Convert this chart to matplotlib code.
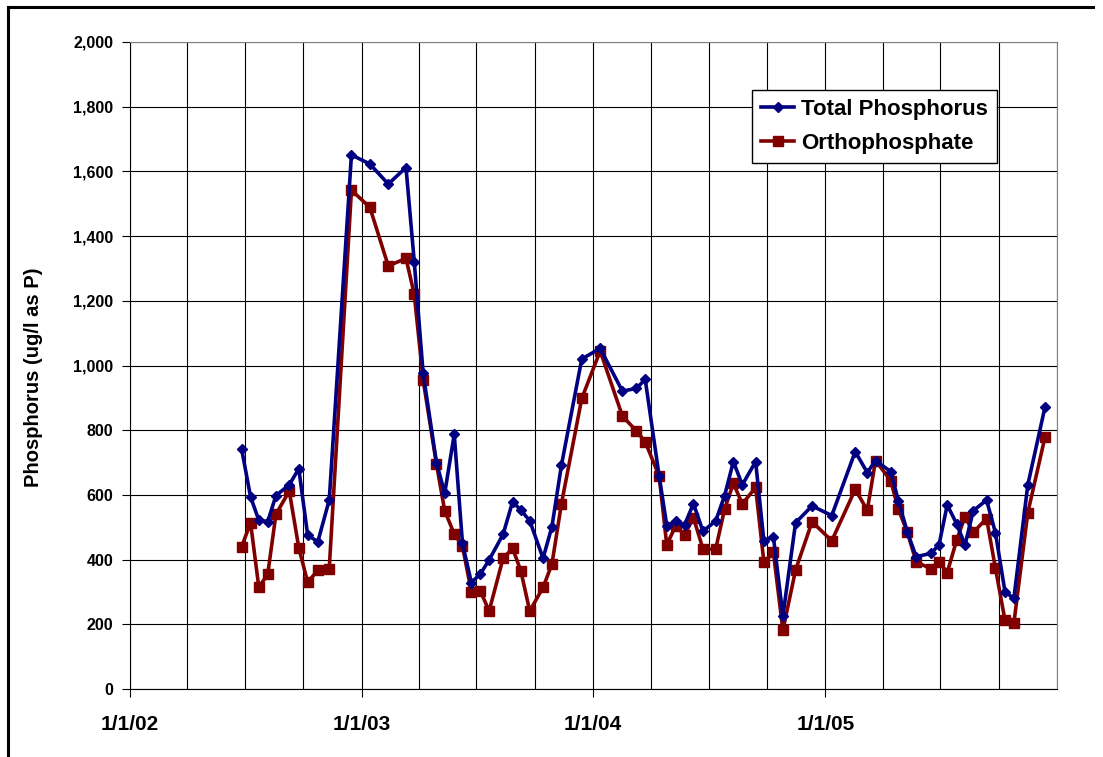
import matplotlib
matplotlib.use("Agg")
import matplotlib.pyplot as plt
import matplotlib.dates as mdates
from matplotlib.lines import Line2D
import pandas as pd

plt.rcParams['font.family'] = ['Liberation Sans', 'DejaVu Sans']

# sample dates
dates = [
    "2002-06-26", "2002-07-10", "2002-07-23", "2002-08-06", "2002-08-19", "2002-09-09",
    "2002-09-24", "2002-10-08", "2002-10-24", "2002-11-11", "2002-12-16",
    "2003-01-14", "2003-02-12", "2003-03-12", "2003-03-25", "2003-04-08", "2003-04-29",
    "2003-05-12", "2003-05-27", "2003-06-09", "2003-06-23", "2003-07-07", "2003-07-21",
    "2003-08-12", "2003-08-27", "2003-09-09", "2003-09-23", "2003-10-14", "2003-10-28",
    "2003-11-12", "2003-12-14",
    "2004-01-12", "2004-02-16", "2004-03-09", "2004-03-23", "2004-04-14", "2004-04-26",
    "2004-05-10", "2004-05-24", "2004-06-07", "2004-06-22", "2004-07-12", "2004-07-26",
    "2004-08-09", "2004-08-23", "2004-09-13", "2004-09-26", "2004-10-11", "2004-10-26",
    "2004-11-15", "2004-12-11",
    "2005-01-11", "2005-02-17", "2005-03-08", "2005-03-21", "2005-04-14", "2005-04-26",
    "2005-05-10", "2005-05-24", "2005-06-16", "2005-06-29", "2005-07-12", "2005-07-27",
    "2005-08-09", "2005-08-22", "2005-09-12", "2005-09-26", "2005-10-11", "2005-10-25",
    "2005-11-16", "2005-12-13",
]

total_p = [
    741, 594, 522, 517, 598, 631, 681, 476, 455, 584, 1651,
    1623, 1561, 1612, 1321, 976, 700, 605, 787, 450, 329, 355, 399, 478, 579, 553, 520,
    404, 502, 692, 1020,
    1053, 921, 929, 957, 658, 505, 519, 507, 573, 488, 519, 597, 703, 631, 703, 458,
    471, 226, 514, 566,
    536, 734, 669, 706, 672, 582, 486, 409, 419, 445, 569, 510, 445, 551, 584, 483,
    301, 280, 631, 871,
]

ortho_p = [
    440, 514, 315, 354, 540, 612, 437, 330, 367, 372, 1542,
    1489, 1308, 1331, 1220, 955, 695, 551, 479, 442, 300, 304, 241, 404, 435, 365, 241,
    314, 386, 573, 898,
    1045, 844, 798, 764, 658, 445, 505, 476, 530, 433, 432, 555, 636, 572, 623, 393,
    422, 182, 368, 517,
    458, 617, 553, 706, 644, 555, 486, 393, 372, 393, 360, 461, 533, 484, 527, 373,
    213, 203, 545, 778,
]

year_ticks = ["2002-01-01", "2003-01-01", "2004-01-01", "2005-01-01"]
year_labels = ["1/1/02", "1/1/03", "1/1/04", "1/1/05"]

x = pd.to_datetime(dates)

fig = plt.figure(figsize=(11.03, 7.57), dpi=100)
ax = fig.add_axes([130 / 1103, 1 - 689 / 757, (1057 - 130) / 1103, (689 - 42) / 757])

ax.plot(x, total_p, color="#000080", lw=2.6, marker="D", ms=5.5, label="Total Phosphorus", zorder=4)
ax.plot(x, ortho_p, color="#800000", lw=2.6, marker="s", ms=7, label="Orthophosphate", zorder=3)

ax.set_xlim(pd.Timestamp("2002-01-01"), pd.Timestamp("2006-01-01"))
ax.set_ylim(0, 2000)
ax.set_yticks(range(0, 2001, 200))
ax.yaxis.set_major_formatter(matplotlib.ticker.FuncFormatter(lambda v, p: f"{int(v):,}"))

ax.set_xticks(mdates.date2num(pd.to_datetime(year_ticks)))
ax.set_xticklabels(year_labels)
ax.xaxis.set_minor_locator(mdates.MonthLocator(bymonth=[1, 4, 7, 10]))

ax.grid(True, which="both", color="black", lw=0.8)
ax.set_axisbelow(True)
ax.tick_params(axis="x", which="minor", length=0)
ax.tick_params(axis="x", which="major", length=6, pad=13, labelsize=15)
ax.tick_params(axis="y", length=6, pad=6, labelsize=11.5)
for lbl in ax.get_xticklabels() + ax.get_yticklabels():
    lbl.set_fontweight("bold")

for side in ["top", "right"]:
    ax.spines[side].set_color("#808080")
for side in ["left", "bottom"]:
    ax.spines[side].set_color("black")

ax.set_ylabel("Phosphorus (ug/l as P)", fontsize=14.5, fontweight="bold")
ax.yaxis.set_label_coords((43 - 130) / 927, 1 - (377 - 42) / 647)

leg = ax.legend(loc="upper left", bbox_to_anchor=((752 - 130) / 927, 1 - (90 - 42) / 647),
                frameon=True, fancybox=False, edgecolor="black", framealpha=1,
                prop={"weight": "bold", "size": 16}, handlelength=1.5, borderpad=0.4,
                labelspacing=0.6, handletextpad=0.3, borderaxespad=0)
leg.get_frame().set_linewidth(1.0)

# outer chart border (top and left visible)
fig.add_artist(Line2D([8 / 1103, 1093 / 1103], [1 - 7 / 757, 1 - 7 / 757], color="black", lw=2.2))
fig.add_artist(Line2D([8 / 1103, 8 / 1103], [0, 1 - 7 / 757], color="black", lw=2.2))

fig.savefig("out.png", dpi=100)
